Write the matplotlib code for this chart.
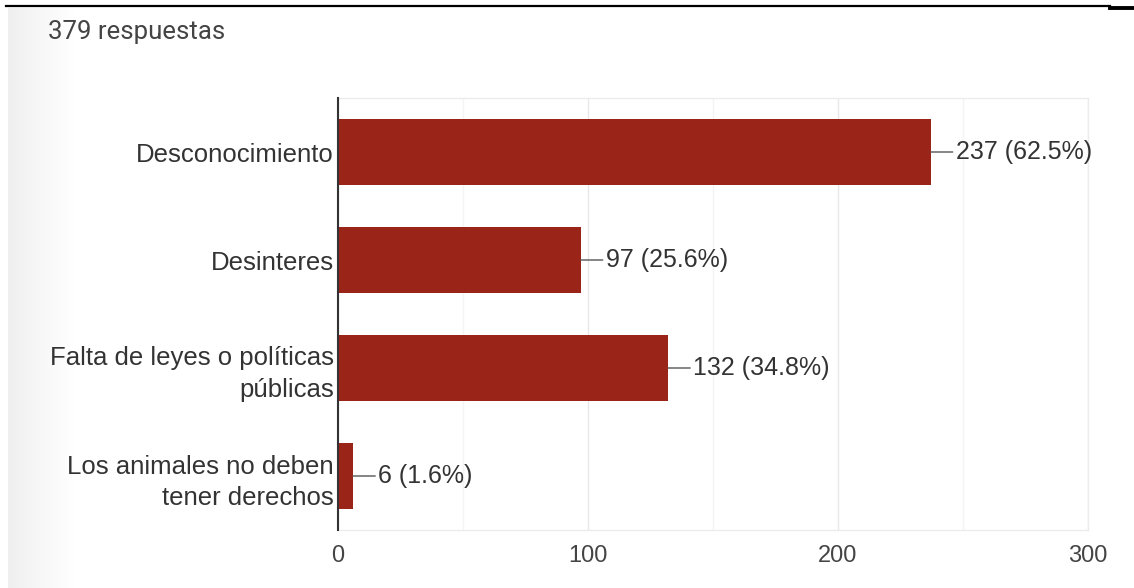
import matplotlib.pyplot as plt
import numpy as np
from matplotlib.lines import Line2D

# datos de la encuesta
categorias = ["Desconocimiento", "Desinteres", "Falta de leyes o políticas\npúblicas",
              "Los animales no deben\ntener derechos"]
respuestas = [237, 97, 132, 6]
porcentajes = [62.5, 25.6, 34.8, 1.6]
total = 379
ticks_x = [0, 100, 200, 300]

ROJO = "#9b2419"
GRIS_TEXTO = "#444444"

fig = plt.figure(figsize=(11.34, 5.88), dpi=100)
fig.patch.set_facecolor("white")

# sombra gris a la izquierda
ax_bg = fig.add_axes([8 / 1134, 0, 65 / 1134, 1 - 8 / 588])
grad = np.linspace(0, 1, 100).reshape(1, -1)
ax_bg.imshow(grad, cmap=plt.matplotlib.colors.LinearSegmentedColormap.from_list(
    "g", ["#efefef", "#ffffff"]), aspect="auto", extent=[0, 1, 0, 1])
ax_bg.axis("off")

# lineas negras de arriba
fig.add_artist(Line2D([6 / 1134, 1110 / 1134], [1 - 6 / 588] * 2, color="black", lw=1.6))
fig.add_artist(Line2D([1110 / 1134, 1.0], [1 - 7.5 / 588] * 2, color="black", lw=2.8))

fig.text(48 / 1134, 1 - 32 / 588, f"{total} respuestas", fontsize=18.5, family="Roboto",
         color=GRIS_TEXTO, va="center", ha="left")

ax = fig.add_axes([338 / 1134, 1 - 530 / 588, 750 / 1134, 432 / 588])
y = np.arange(len(categorias))
ax.barh(y, respuestas, height=0.61, color=ROJO, zorder=3)
ax.set_ylim(len(categorias) - 0.5, -0.5)
ax.set_xlim(0, 300)

ax.set_xticks(ticks_x)
ax.set_xticks([50, 150, 250], minor=True)
ax.grid(axis="x", which="major", color="#e8e8e8", lw=1, zorder=0)
ax.grid(axis="x", which="minor", color="#f4f4f4", lw=1, zorder=0)
ax.tick_params(axis="x", which="both", length=0, pad=11, labelsize=17, labelcolor=GRIS_TEXTO)
ax.tick_params(axis="y", length=0, pad=3)
ax.set_yticks(y)
ax.set_yticklabels(categorias, fontsize=18.5, color="#333333", family="Liberation Sans",
                   linespacing=1.4)
for lab in ax.get_xticklabels():
    lab.set_family("Liberation Sans")

for nombre, sp in ax.spines.items():
    sp.set_color("#ececec")
    sp.set_linewidth(1)
ax.spines["left"].set_color("#333333")
ax.spines["left"].set_linewidth(1.5)
ax.spines["left"].set_zorder(4)

for i, (v, p) in enumerate(zip(respuestas, porcentajes)):
    ax.annotate(f"{v} ({p}%)", xy=(v, i), xytext=(18, 0), textcoords="offset points",
                va="center", ha="left", fontsize=18, family="Liberation Sans",
                color="#333333",
                arrowprops=dict(arrowstyle="-", color="#555555", lw=1,
                                shrinkA=0, shrinkB=0))

fig.savefig("out.png", dpi=100)
